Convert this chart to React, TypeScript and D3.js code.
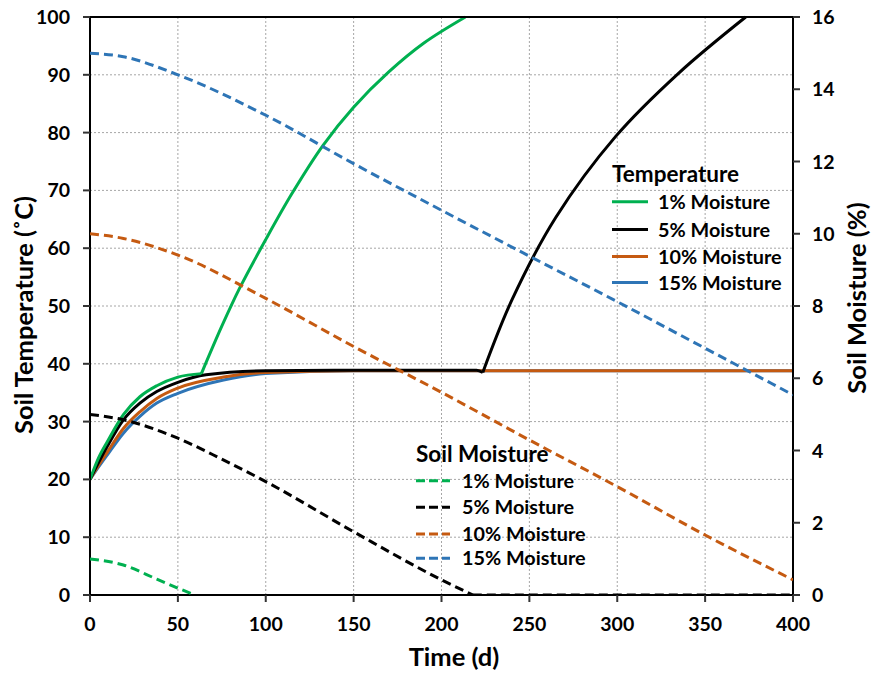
import React from "react";
import * as d3 from "d3";

// ---------- data ----------
const timeTicks = [0, 50, 100, 150, 200, 250, 300, 350, 400];
const tempTicks = [0, 10, 20, 30, 40, 50, 60, 70, 80, 90, 100];
const moistTicks = [0, 2, 4, 6, 8, 10, 12, 14, 16];

// Temperature (°C), left axis
const temp1Time = [0, 5, 10, 19, 28.4, 38, 50, 63.4];
const temp1Val = [20, 23.8, 26.6, 31.2, 34.3, 36.2, 37.7, 38.3];
const temp1RiseTime = [63.4, 75, 85, 100, 115, 132.6, 150, 170, 190, 213.6];
const temp1RiseVal = [38.3, 46.5, 53, 61.5, 69.5, 77.8, 84.4, 90.5, 95.5, 100];

const temp5Time = [0, 5, 10, 19, 28.4, 38, 50, 66, 100, 150, 220, 223.5];
const temp5Val = [20, 23, 25.8, 30.3, 33.2, 35.2, 36.8, 38.1, 38.8, 38.9, 38.9, 38.5];
const temp5RiseTime = [223.5, 240, 265, 299, 335, 373.1];
const temp5RiseVal = [38.5, 51, 65.3, 79.3, 90.3, 100];

const temp10Time = [0, 5, 10, 19, 28.4, 38, 50, 76, 100, 150, 400];
const temp10Val = [20, 22.5, 24.8, 28.8, 31.7, 34, 35.8, 37.7, 38.5, 38.8, 38.8];

const temp15Time = [0, 5, 10, 19, 28.4, 38, 50, 76, 100, 150, 400];
const temp15Val = [20, 22.2, 24.3, 28, 30.9, 33.2, 34.9, 37.2, 38.3, 38.8, 38.8];

// Soil moisture (%), right axis
const moist1Time = [0, 19, 38, 50, 59.7];
const moist1Val = [1.0, 0.83, 0.44, 0.19, 0];

const moist5Time = [0, 19, 50, 75, 100, 150, 200, 217.8];
const moist5Val = [5.0, 4.85, 4.34, 3.76, 3.14, 1.75, 0.42, 0];
const moist5FlatTime = [217.8, 400];
const moist5FlatVal = [0, 0];

const moist10Time = [0, 19, 50, 100, 150, 200, 250, 300, 350, 400];
const moist10Val = [10.0, 9.87, 9.41, 8.21, 6.88, 5.61, 4.29, 3.0, 1.66, 0.42];

const moist15Time = [0, 19, 50, 100, 150, 200, 250, 300, 350, 400];
const moist15Val = [15.0, 14.9, 14.4, 13.28, 11.94, 10.65, 9.38, 8.12, 6.83, 5.54];

const seriesLabels = ["1% Moisture", "5% Moisture", "10% Moisture", "15% Moisture"];
const seriesColors = ["#00B050", "#000000", "#C55A11", "#2E75B6"];

// ---------- layout ----------
const W = 872;
const H = 673;
const L = 90;
const R = 793;
const T = 17;
const B = 595;
const FONT = "Lato, 'Open Sans', 'DejaVu Sans', sans-serif";

const x = d3.scaleLinear().domain([0, 400]).range([L, R]);
const yT = d3.scaleLinear().domain([0, 100]).range([B, T]);
const yM = d3.scaleLinear().domain([0, 16]).range([B, T]);

const zip = (ts: number[], vs: number[]) => ts.map((t, i) => [t, vs[i]] as [number, number]);

const lineT = d3
  .line<[number, number]>()
  .x((d) => x(d[0]))
  .y((d) => yT(d[1]))
  .curve(d3.curveMonotoneX);
const lineTRise = d3
  .line<[number, number]>()
  .x((d) => x(d[0]))
  .y((d) => yT(d[1]))
  .curve(d3.curveCatmullRom.alpha(0.5));
const lineM = d3
  .line<[number, number]>()
  .x((d) => x(d[0]))
  .y((d) => yM(d[1]))
  .curve(d3.curveMonotoneX);

const DASH = "9,5";

export default function App() {
  const tempSeries = [
    { segs: [zip(temp15Time, temp15Val)], color: seriesColors[3] },
    { segs: [zip(temp10Time, temp10Val)], color: seriesColors[2] },
    { segs: [zip(temp5Time, temp5Val), zip(temp5RiseTime, temp5RiseVal)], color: seriesColors[1] },
    { segs: [zip(temp1Time, temp1Val), zip(temp1RiseTime, temp1RiseVal)], color: seriesColors[0] },
  ];
  const moistSeries = [
    { segs: [zip(moist1Time, moist1Val)], color: seriesColors[0] },
    { segs: [zip(moist5Time, moist5Val), zip(moist5FlatTime, moist5FlatVal)], color: seriesColors[1] },
    { segs: [zip(moist10Time, moist10Val)], color: seriesColors[2] },
    { segs: [zip(moist15Time, moist15Val)], color: seriesColors[3] },
  ];

  const tempLegendRows = [201.7, 229.5, 256.5, 282.5];
  const moistLegendRows = [480.7, 507.3, 534, 558.3];

  return (
    <svg
      width={W}
      height={H}
      style={{ position: "absolute", left: 0, top: 0, background: "#fff" }}
      fontFamily={FONT}
      fontWeight="bold"
    >
      <defs>
        <clipPath id="plot">
          <rect x={L} y={T - 2} width={R - L} height={B - T + 2} />
        </clipPath>
      </defs>
      {/* gridlines */}
      {tempTicks
        .filter((v) => v > 0 && v < 100)
        .map((v) => (
          <line key={"gy" + v} x1={L} x2={R} y1={yT(v)} y2={yT(v)} stroke="#a6a6a6" strokeWidth={1} strokeDasharray="2,2" />
        ))}
      {timeTicks
        .filter((t) => t > 0 && t < 400)
        .map((t) => (
          <line key={"gx" + t} x1={x(t)} x2={x(t)} y1={T} y2={B} stroke="#a6a6a6" strokeWidth={1} strokeDasharray="2,2" />
        ))}

      {/* temperature lines */}
      <g clipPath="url(#plot)">
        {tempSeries.map((s, i) =>
          s.segs.map((seg, j) => (
            <path
              key={"t" + i + "-" + j}
              d={(j === 1 ? lineTRise(seg) : lineT(seg)) || ""}
              fill="none"
              stroke={s.color}
              strokeWidth={3}
              strokeLinejoin="round"
            />
          ))
        )}
      </g>

      {/* axes frame */}
      <line x1={L} x2={R} y1={T} y2={T} stroke="#000" strokeWidth={2} />
      <line x1={L} x2={R} y1={B} y2={B} stroke="#000" strokeWidth={2} />
      <line x1={L} x2={L} y1={T} y2={B} stroke="#000" strokeWidth={2} />
      <line x1={R} x2={R} y1={T} y2={B} stroke="#000" strokeWidth={2} />

      {/* moisture lines */}
      <g clipPath="url(#plot)">
        {moistSeries.map((s, i) =>
          s.segs.map((seg, j) => (
            <path
              key={"m" + i + "-" + j}
              d={lineM(seg) || ""}
              fill="none"
              stroke={s.color}
              strokeWidth={3}
              strokeDasharray={DASH}
            />
          ))
        )}
      </g>

      {/* ticks + labels */}
      {tempTicks.map((v) => (
        <g key={"lt" + v}>
          <line x1={L - 7} x2={L} y1={yT(v)} y2={yT(v)} stroke="#333" strokeWidth={2} />
          <text x={70} y={yT(v)} dy="0.36em" textAnchor="end" fontSize={19.5} fill="#000">
            {v}
          </text>
        </g>
      ))}
      {moistTicks.map((v) => (
        <g key={"rt" + v}>
          <line x1={R} x2={R + 7} y1={yM(v)} y2={yM(v)} stroke="#333" strokeWidth={2} />
          <text x={812} y={yM(v)} dy="0.36em" textAnchor="start" fontSize={19.5} fill="#000">
            {v}
          </text>
        </g>
      ))}
      {timeTicks.map((t) => (
        <g key={"bt" + t}>
          <line x1={x(t)} x2={x(t)} y1={B} y2={B + 7} stroke="#333" strokeWidth={2} />
          <text x={x(t)} y={631} textAnchor="middle" fontSize={19.5} fill="#000">
            {t}
          </text>
        </g>
      ))}

      {/* axis titles */}
      <text x={454} y={666} textAnchor="middle" fontSize={25.5} fill="#000">
        Time (d)
      </text>
      <text transform="translate(33,315) rotate(-90)" textAnchor="middle" fontSize={25.5} fill="#000">
        Soil Temperature (˚C)
      </text>
      <text transform="translate(866,298) rotate(-90)" textAnchor="middle" fontSize={25.5} fill="#000">
        Soil Moisture (%)
      </text>

      {/* temperature legend */}
      <text x={612} y={182} fontSize={22.5} fill="#000">
        Temperature
      </text>
      {seriesLabels.map((lab, i) => (
        <g key={"tl" + i}>
          <line x1={612} x2={648} y1={tempLegendRows[i]} y2={tempLegendRows[i]} stroke={seriesColors[i]} strokeWidth={3} />
          <text x={658} y={tempLegendRows[i]} dy="0.36em" fontSize={19.8} fill="#000">
            {lab}
          </text>
        </g>
      ))}

      {/* moisture legend */}
      <text x={416} y={462} fontSize={22.5} fill="#000">
        Soil Moisture
      </text>
      {seriesLabels.map((lab, i) => (
        <g key={"ml" + i}>
          <line
            x1={416}
            x2={450}
            y1={moistLegendRows[i]}
            y2={moistLegendRows[i]}
            stroke={seriesColors[i]}
            strokeWidth={3}
            strokeDasharray="9,4"
          />
          <text x={462} y={moistLegendRows[i]} dy="0.36em" fontSize={19.8} fill="#000">
            {lab}
          </text>
        </g>
      ))}
    </svg>
  );
}
